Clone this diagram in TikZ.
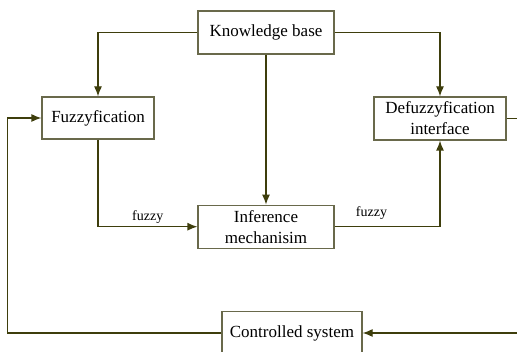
\documentclass[tikz,border=0pt]{standalone}
\usepackage{fontspec}
\setmainfont{Liberation Serif}
\usetikzlibrary{positioning, arrows.meta}
\definecolor{boxline}{RGB}{105,105,75}
\definecolor{wireline}{RGB}{62,62,12}

\begin{document}
\begin{tikzpicture}[x=1pt, y=-1pt,
        block/.style={draw=boxline, line width=1.2pt, inner sep=0pt, align=center,
            minimum height=43pt, font=\fontsize{17}{21}\selectfont},
        wire/.style={draw=wireline, line width=1.2pt},
        arr/.style={wire, -{Latex[length=10pt, width=8pt]}},
        lbl/.style={font=\fontsize{14}{16}\selectfont, inner sep=1pt}]
            \useasboundingbox (0,0) rectangle (517,352);
            \clip (0,0) rectangle (517,352);
            \node [block, minimum width=136pt] (kb) at (266,32.5) {Knowledge base};
            \node [block, minimum width=112pt, minimum height=42pt] (fuzz) at (98,118) {Fuzzyfication};
            \node [block, minimum width=132pt] (defuzz) at (440,118.5) {Defuzzyfication\\interface};
            \node [block, minimum width=136pt, below=150pt of kb] (infer) {Inference\\mechanisim};
            \node [block, minimum width=140pt] (plant) at (292,333) {Controlled system};
            % knowledge base to the three blocks
            \draw[arr] (kb.west) -| (fuzz.north);
            \draw[arr] (kb.east) -| (defuzz.north);
            \draw[arr] (kb.south) -- (infer.north);
            % fuzzy signals
            \draw[arr] (fuzz.south) |- node[lbl, pos=0.75, above=2pt] {fuzzy} (infer.west);
            \draw[arr] (infer.east) -| node[lbl, pos=0.175, above=6pt] {fuzzy} (defuzz.south);
            % loop through the controlled system
            \draw[arr] (defuzz.east) -- ++(20,0) |- (plant.east);
            \draw[arr] (plant.west) -| ([xshift=-34pt]fuzz.west) -- (fuzz.west);
        \end{tikzpicture}
\end{document}
